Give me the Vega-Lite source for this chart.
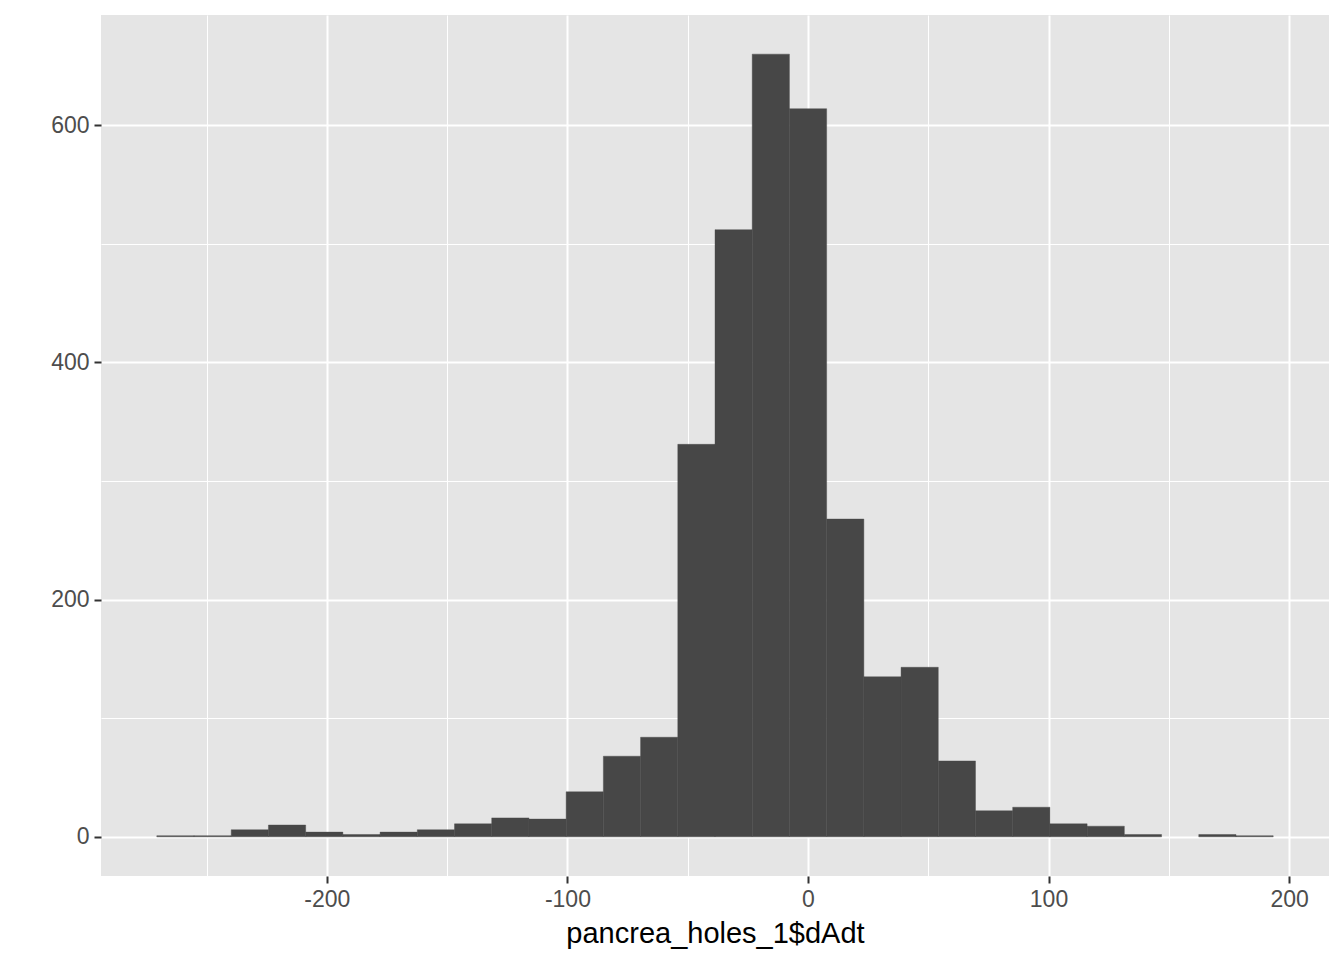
{
  "$schema": "https://vega.github.io/schema/vega-lite/v6.json",
  "width": 1228,
  "height": 861,
  "autosize": {"type": "none"},
  "padding": {"left": 101, "top": 15, "right": 15, "bottom": 84},
  "background": "white",
  "view": {"fill": "#E5E5E5", "stroke": null},
  "config": {
    "font": "Liberation Sans",
    "axis": {
      "domain": false,
      "tickColor": "#333333",
      "tickWidth": 2,
      "tickSize": 7,
      "labelColor": "#4D4D4D",
      "labelFont": "Liberation Sans",
      "labelFontSize": 23,
      "labelPadding": 5,
      "gridColor": "white",
      "gridWidth": 2,
      "titleFont": "Liberation Sans",
      "titleFontWeight": "normal",
      "titleColor": "black",
      "titleFontSize": 29
    }
  },
  "data": {
    "values": [
      {"start": -270.7, "end": -255.23, "count": 1},
      {"start": -255.23, "end": -239.76, "count": 1},
      {"start": -239.76, "end": -224.29, "count": 6},
      {"start": -224.29, "end": -208.82, "count": 10},
      {"start": -208.82, "end": -193.35, "count": 4},
      {"start": -193.35, "end": -177.88, "count": 2},
      {"start": -177.88, "end": -162.41, "count": 4},
      {"start": -162.41, "end": -146.94, "count": 6},
      {"start": -146.94, "end": -131.47, "count": 11},
      {"start": -131.47, "end": -116.0, "count": 16},
      {"start": -116.0, "end": -100.53, "count": 15},
      {"start": -100.53, "end": -85.06, "count": 38},
      {"start": -85.06, "end": -69.59, "count": 68},
      {"start": -69.59, "end": -54.12, "count": 84},
      {"start": -54.12, "end": -38.65, "count": 331},
      {"start": -38.65, "end": -23.18, "count": 512},
      {"start": -23.18, "end": -7.71, "count": 660},
      {"start": -7.71, "end": 7.76, "count": 614},
      {"start": 7.76, "end": 23.23, "count": 268},
      {"start": 23.23, "end": 38.7, "count": 135},
      {"start": 38.7, "end": 54.17, "count": 143},
      {"start": 54.17, "end": 69.64, "count": 64},
      {"start": 69.64, "end": 85.11, "count": 22},
      {"start": 85.11, "end": 100.58, "count": 25},
      {"start": 100.58, "end": 116.05, "count": 11},
      {"start": 116.05, "end": 131.52, "count": 9},
      {"start": 131.52, "end": 146.99, "count": 2},
      {"start": 146.99, "end": 162.46, "count": 0},
      {"start": 162.46, "end": 177.93, "count": 2},
      {"start": 177.93, "end": 193.4, "count": 1}
    ]
  },
  "layer": [
    {
      "mark": {"type": "bar", "opacity": 0},
      "encoding": {
        "x": {
          "field": "start", "type": "quantitative",
          "scale": {"domain": [-293.9, 216.6], "nice": false, "zero": false},
          "axis": {"orient": "bottom", "values": [-250, -150, -50, 50, 150], "grid": true, "gridWidth": 1, "labels": false, "ticks": false, "title": null}
        },
        "x2": {"field": "end"},
        "y": {
          "field": "count", "type": "quantitative",
          "scale": {"domain": [-33, 693], "nice": false, "zero": false},
          "axis": {"orient": "left", "values": [100, 300, 500], "grid": true, "gridWidth": 1, "labels": false, "ticks": false, "title": null}
        },
        "y2": {"datum": 0}
      }
    },
    {
      "mark": {"type": "bar", "fill": "#474747", "stroke": "#474747", "strokeWidth": 0.4},
      "encoding": {
        "x": {
          "field": "start", "type": "quantitative",
          "axis": {"orient": "bottom", "values": [-200, -100, 0, 100, 200], "grid": true, "title": "pancrea_holes_1$dAdt", "titlePadding": 8,
            "labelExpr": "datum.value < 0 ? '-' + abs(datum.value) : '' + datum.value"}
        },
        "x2": {"field": "end"},
        "y": {
          "field": "count", "type": "quantitative",
          "axis": {"orient": "left", "values": [0, 200, 400, 600], "grid": true, "title": null}
        },
        "y2": {"datum": 0},
        "strokeOpacity": {"condition": {"test": "datum.count > 0", "value": 1}, "value": 0}
      }
    }
  ],
  "resolve": {"axis": {"x": "independent", "y": "independent"}}
}
